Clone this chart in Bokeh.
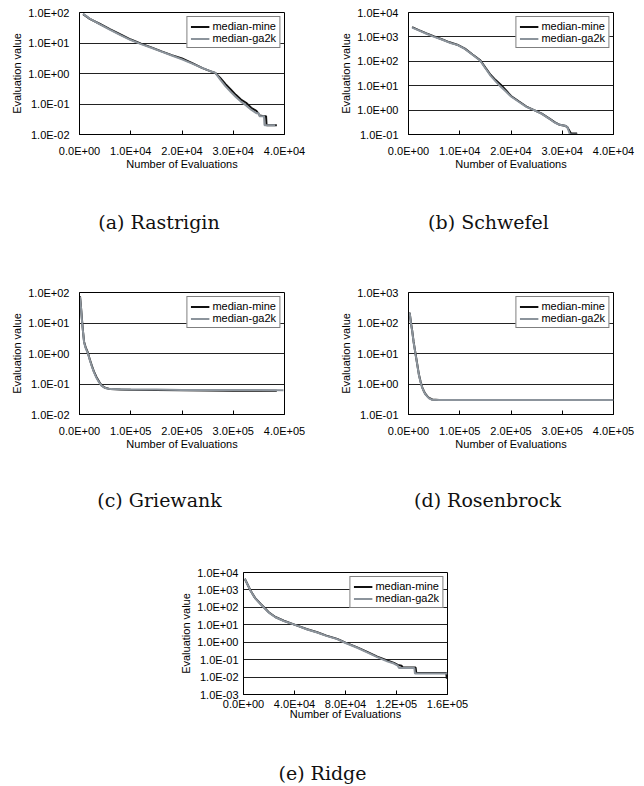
from bokeh.plotting import figure
from bokeh.layouts import column, row
from bokeh.models import Range1d, FixedTicker
from bokeh.core.properties import value
from bokeh.embed import file_html
from bokeh.resources import INLINE

LEGEND = ["median-mine", "median-ga2k"]
X_TITLE = "Number of Evaluations"
Y_TITLE = "Evaluation value"
CAPTIONS = ["(a) Rastrigin", "(b) Schwefel", "(c) Griewank", "(d) Rosenbrock", "(e) Ridge"]

# ---------------- (a) Rastrigin ----------------
ras_x_mine = [700, 2000, 4000, 6000, 8000, 10000, 12000, 14000, 16000, 18000, 20000, 22000, 24000,
              25500, 26500, 27500, 28500, 29500, 30500, 31500, 32500, 33500, 34500, 35200, 36000,
              36400, 36500, 38500]
ras_y_mine = [88, 62, 42, 28, 19, 13, 9.5, 7.2, 5.3, 4.0, 3.1, 2.2, 1.5, 1.2, 1.05, 0.7, 0.45, 0.3,
              0.2, 0.14, 0.11, 0.075, 0.06, 0.042, 0.04, 0.04, 0.02, 0.02]
ras_x_ga2k = [700, 2000, 4000, 6000, 8000, 10000, 12000, 14000, 16000, 18000, 20000, 22000, 24000,
              25500, 26500, 27500, 28500, 29500, 30500, 31500, 32500, 33500, 34500, 35000, 35100,
              36000, 36100, 38200]
ras_y_ga2k = [90, 63, 41, 27, 18, 12.5, 9.2, 7.0, 5.2, 3.9, 2.9, 2.1, 1.5, 1.2, 1.05, 0.62, 0.38,
              0.25, 0.17, 0.12, 0.09, 0.065, 0.05, 0.05, 0.04, 0.04, 0.02, 0.02]

# ---------------- (b) Schwefel ----------------
sch_x_mine = [700, 2000, 3500, 5000, 6500, 8000, 9500, 11000, 12500, 14000, 15000, 16000, 17000,
              18000, 19000, 20000, 21500, 23000, 24500, 26000, 27500, 28500, 29500, 30500, 31000,
              31700, 32900]
sch_y_mine = [2500, 1900, 1400, 1050, 800, 600, 480, 330, 190, 110, 55, 28, 17, 11, 6.5, 3.8, 2.3,
              1.4, 1.0, 0.72, 0.45, 0.32, 0.25, 0.23, 0.2, 0.11, 0.11]
sch_x_ga2k = [700, 2000, 3500, 5000, 6500, 8000, 9500, 11000, 12500, 14000, 15000, 16000, 17000,
              18000, 19000, 20000, 21500, 23000, 24500, 26000, 27500, 28500, 29500, 30500, 31000,
              31500, 33000]
sch_y_ga2k = [2400, 1850, 1350, 1000, 780, 580, 470, 320, 185, 105, 52, 26, 15, 9, 5.8, 3.6, 2.2,
              1.35, 1.0, 0.7, 0.44, 0.31, 0.25, 0.23, 0.2, 0.1, 0.1]

# ---------------- (c) Griewank ----------------
gri_x_mine = [1000, 2000, 3500, 5000, 7000, 9000, 12000, 16000, 20000, 24000, 28000, 33000, 38000,
              43000, 50000, 60000, 80000, 100000, 150000, 200000, 250000, 300000, 350000, 385000]
gri_y_mine = [75, 50, 25, 12, 5.0, 2.4, 1.6, 1.1, 0.65, 0.4, 0.26, 0.17, 0.12, 0.09, 0.075, 0.068,
              0.066, 0.065, 0.064, 0.062, 0.061, 0.06, 0.06, 0.06]
gri_x_ga2k = [1000, 2000, 3500, 5000, 7000, 9000, 12000, 16000, 20000, 24000, 28000, 33000, 38000,
              43000, 50000, 60000, 80000, 100000, 150000, 200000, 250000, 300000, 350000, 398000]
gri_y_ga2k = [70, 48, 24, 11, 4.8, 2.3, 1.5, 1.05, 0.62, 0.38, 0.25, 0.16, 0.115, 0.088, 0.074,
              0.068, 0.067, 0.066, 0.066, 0.064, 0.064, 0.063, 0.063, 0.062]

# ---------------- (d) Rosenbrock ----------------
ros_x_mine = [1500, 2600, 5000, 7200, 10000, 13700, 17000, 20200, 23500, 26800, 30000, 33000, 36600,
              40000, 46300, 60000, 100000, 200000, 300000, 400000]
ros_y_mine = [220, 200, 95, 56, 24, 9.8, 4.5, 2.1, 1.2, 0.78, 0.58, 0.47, 0.4, 0.35, 0.31, 0.3, 0.3,
              0.3, 0.3, 0.3]
ros_x_ga2k = [1500, 2600, 5000, 7200, 10000, 13700, 17000, 20200, 23500, 26800, 30000, 33000, 36600,
              40000, 46300, 60000, 100000, 200000, 300000, 400000]
ros_y_ga2k = [215, 195, 92, 54, 23, 9.5, 4.4, 2.0, 1.15, 0.76, 0.57, 0.46, 0.39, 0.34, 0.305, 0.3,
              0.3, 0.3, 0.3, 0.3]

# ---------------- (e) Ridge ----------------
rid_x_mine = [1000, 5500, 9000, 13300, 19800, 25000, 31600, 42100, 50000, 57800, 65000, 73500, 80000,
              89200, 97000, 104900, 112700, 118000, 121000, 124000, 125000, 135000, 135500, 159000,
              159500]
rid_y_mine = [4400, 930, 350, 160, 52, 28, 17, 9, 5.5, 3.7, 2.4, 1.55, 0.95, 0.51, 0.28, 0.15, 0.089,
              0.065, 0.05, 0.045, 0.035, 0.035, 0.017, 0.017, 0.008]
rid_x_ga2k = [1000, 5500, 9000, 13300, 19800, 25000, 31600, 42100, 50000, 57800, 65000, 73500, 80000,
              89200, 97000, 104900, 112700, 118000, 121000, 122000, 134000, 134500, 160000]
rid_y_ga2k = [4300, 900, 340, 155, 50, 27, 16.5, 9, 5.4, 3.6, 2.3, 1.5, 0.9, 0.48, 0.26, 0.14, 0.08,
              0.06, 0.045, 0.033, 0.033, 0.016, 0.016]

# ---------------- tick values / labels ----------------
x_ticks_ab = [0, 10000, 20000, 30000, 40000]
x_labels_ab = ["0.0E+00", "1.0E+04", "2.0E+04", "3.0E+04", "4.0E+04"]
x_ticks_cd = [0, 100000, 200000, 300000, 400000]
x_labels_cd = ["0.0E+00", "1.0E+05", "2.0E+05", "3.0E+05", "4.0E+05"]
x_ticks_e = [0, 40000, 80000, 120000, 160000]
x_labels_e = ["0.0E+00", "4.0E+04", "8.0E+04", "1.2E+05", "1.6E+05"]

y_ticks_a = [1e-2, 1e-1, 1e0, 1e1, 1e2]
y_labels_a = ["1.0E-02", "1.0E-01", "1.0E+00", "1.0E+01", "1.0E+02"]
y_ticks_b = [1e-1, 1e0, 1e1, 1e2, 1e3, 1e4]
y_labels_b = ["1.0E-01", "1.0E+00", "1.0E+01", "1.0E+02", "1.0E+03", "1.0E+04"]
y_ticks_c = [1e-2, 1e-1, 1e0, 1e1, 1e2]
y_labels_c = ["1.0E-02", "1.0E-01", "1.0E+00", "1.0E+01", "1.0E+02"]
y_ticks_d = [1e-1, 1e0, 1e1, 1e2, 1e3]
y_labels_d = ["1.0E-01", "1.0E+00", "1.0E+01", "1.0E+02", "1.0E+03"]
y_ticks_e = [1e-3, 1e-2, 1e-1, 1e0, 1e1, 1e2, 1e3, 1e4]
y_labels_e = ["1.0E-03", "1.0E-02", "1.0E-01", "1.0E+00", "1.0E+01", "1.0E+02", "1.0E+03", "1.0E+04"]

FONT = "Liberation Sans"
MINE_COLOR = "#111111"
GA2K_COLOR = "#8C949C"


def panel(xm, ym, xg, yg, xmax, yt, yl, xt, xl, w, h, bl, br, bt, bb,
          ystand=10, xstand=10, xtitle_stand=-2):
    p = figure(width=w, height=h, x_range=Range1d(0, xmax), y_range=Range1d(yt[0], yt[-1]),
               y_axis_type="log", toolbar_location=None, output_backend="svg",
               min_border_left=bl, min_border_right=br, min_border_top=bt, min_border_bottom=bb,
               background_fill_color="white", border_fill_color="white")
    p.line(xm, ym, color=MINE_COLOR, line_width=2, legend_label=LEGEND[0])
    p.line(xg, yg, color=GA2K_COLOR, line_width=2, legend_label=LEGEND[1])

    p.xaxis.ticker = FixedTicker(ticks=xt)
    p.xaxis.major_label_overrides = dict(zip(xt, xl))
    p.yaxis.ticker = FixedTicker(ticks=yt)
    p.yaxis.major_label_overrides = dict(zip(yt, yl))
    p.xaxis.axis_label = X_TITLE
    p.yaxis.axis_label = Y_TITLE

    for ax in (p.xaxis, p.yaxis):
        ax.axis_line_color = "black"
        ax.axis_line_width = 1
        ax.minor_tick_line_color = None
        ax.major_label_text_font = FONT
        ax.major_label_text_font_size = "11px"
        ax.major_label_text_color = "black"
        ax.axis_label_text_font = FONT
        ax.axis_label_text_font_size = "11px"
        ax.axis_label_text_font_style = "normal"
        ax.axis_label_text_color = "black"
    p.xaxis.major_tick_in = 4
    p.xaxis.major_tick_out = 0
    p.xaxis.major_tick_line_color = "black"
    p.xaxis.major_label_standoff = xstand
    p.xaxis.axis_label_standoff = xtitle_stand
    p.yaxis.major_tick_in = 0
    p.yaxis.major_tick_out = 0
    p.yaxis.major_label_standoff = ystand
    p.yaxis.axis_label_standoff = 2

    p.xgrid.visible = False
    p.ygrid.grid_line_color = "#222222"
    p.ygrid.grid_line_width = 1
    p.outline_line_color = "black"
    p.outline_line_width = 1

    lg = p.legend[0]
    lg.location = "top_right"
    lg.margin = 4
    lg.padding = 3
    lg.spacing = 0
    lg.glyph_width = 19
    lg.glyph_height = 11
    lg.label_height = 11
    lg.label_standoff = 3
    lg.label_text_font = FONT
    lg.label_text_font_size = "11px"
    lg.label_text_color = "black"
    lg.border_line_color = "black"
    lg.border_line_width = 1
    lg.background_fill_alpha = 1.0
    return p


def caption_fig(text, w, h, bl, br, cx, cy):
    # same side borders as the plot above it, so frame alignment cannot move it
    fw = w - bl - br
    c = figure(width=w, height=h, x_range=Range1d(0, fw), y_range=Range1d(0, h),
               toolbar_location=None, output_backend="svg",
               min_border_left=bl, min_border_right=br, min_border_top=0, min_border_bottom=0,
               x_axis_location=None, y_axis_location=None)
    c.grid.visible = False
    c.outline_line_color = None
    c.text(x=[cx], y=[cy], text=[text], text_align="center", text_baseline="middle",
           text_font=value("DejaVu Serif"), text_font_size="19px", text_color="#111111")
    return c


pa = panel(ras_x_mine, ras_y_mine, ras_x_ga2k, ras_y_ga2k, 40000, y_ticks_a, y_labels_a,
           x_ticks_ab, x_labels_ab, 322, 175, 79, 38, 12, 41)
pb = panel(sch_x_mine, sch_y_mine, sch_x_ga2k, sch_y_ga2k, 40000, y_ticks_b, y_labels_b,
           x_ticks_ab, x_labels_ab, 322, 175, 86, 31, 12, 41)
ca = caption_fig(CAPTIONS[0], 322, 95, 79, 38, 79.5, 49)
cb = caption_fig(CAPTIONS[1], 322, 95, 86, 31, 80, 49)

pc = panel(gri_x_mine, gri_y_mine, gri_x_ga2k, gri_y_ga2k, 400000, y_ticks_c, y_labels_c,
           x_ticks_cd, x_labels_cd, 322, 185, 79, 38, 22, 41)
pd = panel(ros_x_mine, ros_y_mine, ros_x_ga2k, ros_y_ga2k, 400000, y_ticks_d, y_labels_d,
           x_ticks_cd, x_labels_cd, 322, 185, 86, 31, 22, 41)
cc = caption_fig(CAPTIONS[2], 322, 90, 79, 38, 80, 46)
cd = caption_fig(CAPTIONS[3], 322, 90, 86, 31, 79, 46)

pe = panel(rid_x_mine, rid_y_mine, rid_x_ga2k, rid_y_ga2k, 160000, y_ticks_e, y_labels_e,
           x_ticks_e, x_labels_e, 644, 179, 243, 197, 27, 30,
           ystand=5, xstand=3, xtitle_stand=-5)
ce = caption_fig(CAPTIONS[4], 644, 60, 243, 197, 79, 12)

layout = column(row(pa, pb), row(ca, cb), row(pc, pd), row(cc, cd), pe, ce)

open("out.html", "w").write(file_html(layout, INLINE))
